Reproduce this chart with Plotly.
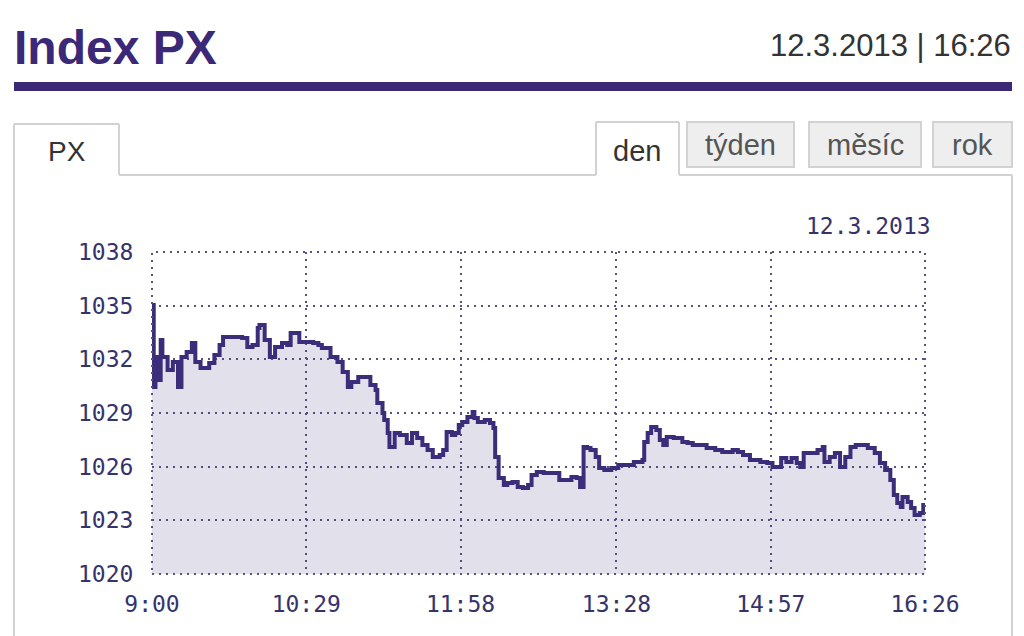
import plotly.graph_objects as go
import pandas as pd

# ---- data ----
times = ["9:00","9:01","9:02","9:03","9:05","9:06","9:09","9:12","9:15","9:17","9:20","9:23","9:25","9:28",
         "9:31","9:33","9:36","9:39","9:41","9:45","9:49","9:52","9:55","9:58","10:01","10:02","10:05","10:08",
         "10:11","10:15","10:18","10:20","10:24","10:25","10:29","10:33","10:36","10:38","10:43","10:47","10:50",
         "10:53","10:55","10:59","11:03","11:06","11:09","11:10","11:13","11:14","11:16","11:17","11:20","11:23",
         "11:27","11:30","11:33","11:36","11:39","11:42","11:46","11:48","11:50","11:53","11:55","11:57","11:59",
         "12:02","12:05","12:06","12:08","12:12","12:15","12:17","12:18","12:20","12:23","12:25","12:28","12:31",
         "12:34","12:37","12:39","12:42","12:46","12:50","12:54","12:55","12:59","13:02","13:05","13:07","13:09",
         "13:11","13:13","13:16","13:18","13:21","13:25","13:29","13:34","13:38","13:43","13:44","13:46","13:48",
         "13:51","13:53","13:55","13:57","14:01","14:06","14:09","14:12","14:16","14:20","14:25","14:29","14:35",
         "14:38","14:41","14:45","14:51","14:55","14:58","15:01","15:03","15:06","15:09","15:12","15:14","15:16",
         "15:20","15:24","15:27","15:28","15:31","15:34","15:37","15:40","15:43","15:46","15:50","15:53","15:57",
         "16:00","16:03","16:06","16:08","16:10","16:12","16:13","16:16","16:18","16:20","16:23","16:25","16:26"]
values = [1035.04,1030.45,1032.13,1030.84,1033.08,1032.13,1031.40,1031.85,1030.45,1032.13,1032.41,1032.91,
          1031.85,1031.51,1031.51,1031.79,1032.24,1032.80,1033.25,1033.25,1033.25,1033.19,1032.69,1032.80,
          1033.75,1033.92,1033.08,1032.13,1032.69,1032.91,1032.80,1033.47,1033.47,1032.97,1032.97,1032.91,
          1032.80,1032.63,1032.13,1031.85,1031.29,1030.45,1030.73,1031.01,1031.01,1030.56,1030.28,1029.56,
          1029.00,1028.61,1027.88,1027.10,1027.88,1027.77,1027.32,1027.88,1027.60,1027.21,1026.93,1026.54,
          1026.65,1026.93,1027.94,1027.77,1027.88,1028.33,1028.50,1028.78,1029.06,1028.72,1028.50,1028.61,
          1028.44,1028.16,1026.54,1025.37,1024.97,1025.09,1025.14,1024.86,1024.81,1024.97,1025.53,1025.70,
          1025.65,1025.65,1025.65,1025.25,1025.25,1025.42,1025.37,1024.86,1027.10,1027.04,1026.93,1026.54,
          1025.93,1025.81,1025.93,1026.09,1026.09,1026.26,1026.37,1027.38,1027.88,1028.22,1028.05,1027.49,
          1027.21,1027.66,1027.60,1027.38,1027.32,1027.21,1027.21,1027.04,1026.93,1026.82,1026.93,1026.82,
          1026.65,1026.37,1026.26,1026.20,1025.98,1025.98,1026.48,1026.26,1026.48,1026.20,1025.98,1026.76,
          1026.76,1026.93,1027.10,1026.26,1026.54,1026.76,1025.98,1026.54,1027.10,1027.21,1027.21,1027.04,
          1026.76,1026.20,1025.81,1025.25,1024.42,1023.97,1023.75,1024.30,1024.02,1023.69,1023.30,1023.41,
          1023.86,1023.47]
x_ticks = ["9:00", "10:29", "11:58", "13:28", "14:57", "16:26"]
y_ticks = [1020, 1023, 1026, 1029, 1032, 1035, 1038]
day = "2013-03-12"
day_label = "12.3.2013"
title = "Index PX"
stamp = "12.3.2013 | 16:26"
tabs = ["den", "týden", "měsíc", "rok"]

def to_dt(t):
    return pd.Timestamp(f"{day} {t.zfill(5)}")

xs = [to_dt(t) for t in times]
tick_dt = [to_dt(t) for t in x_ticks]

LINE = "#3b2d7a"
PURPLE = "#3b2876"
GRID = "#55537f"
TXT = "#36336b"
MONO = "DejaVu Sans Mono, Liberation Mono, monospace"
SANS = "Liberation Sans, Arial, sans-serif"
DASH = "2px,5px"
OFF = 8                      # page body margin
W, H = 1024 - OFF, 636 - OFF

def px(x):
    return (x - OFF) / W

def py(y):
    return 1 - (y - OFF) / H

fig = go.Figure()
fig.add_trace(go.Scatter(
    x=xs, y=values, mode="lines", line=dict(color=LINE, width=4, shape="hv"),
    fill="tozeroy", fillcolor="rgba(59,45,122,0.15)", hoverinfo="skip", showlegend=False))

axis_common = dict(showgrid=True, gridcolor=GRID, gridwidth=2, griddash=DASH, zeroline=False,
                   showline=False, ticks="outside", tickcolor="rgba(0,0,0,0)", automargin=False,
                   tickfont=dict(family=MONO, size=23, color=TXT))
fig.update_layout(
    width=W, height=H, margin=dict(l=0, r=0, t=0, b=0, pad=0, autoexpand=False),
    paper_bgcolor="white", plot_bgcolor="white", showlegend=False,
    xaxis=dict(domain=[px(152), px(925)], type="date",
               range=[tick_dt[0], tick_dt[-1]], tickvals=tick_dt, ticktext=x_ticks,
               ticklen=9, **axis_common),
    yaxis=dict(domain=[py(574), py(252)], range=[1020, 1038], tickvals=y_ticks,
               ticktext=[str(v) for v in y_ticks], ticklen=13, **axis_common),
)

shapes = []
# dotted frame of the plot area
shapes.append(dict(type="rect", xref="x domain", yref="y domain", x0=0, x1=1, y0=0, y1=1,
                   line=dict(color=GRID, width=2, dash=DASH), fillcolor="rgba(0,0,0,0)", layer="above"))
# purple rule under header
shapes.append(dict(type="rect", xref="paper", yref="paper", x0=px(14), x1=px(1012), y0=py(91), y1=py(82),
                   fillcolor=PURPLE, line=dict(width=0), layer="below"))
BORDER = "#d2d2d2"
def seg(x0, y0, x1, y1):
    shapes.append(dict(type="line", xref="paper", yref="paper", x0=px(x0), y0=py(y0), x1=px(x1), y1=py(y1),
                       line=dict(color=BORDER, width=2), layer="below"))
# panel + PX tab
seg(14, 124, 14, 640)
seg(14, 124, 119, 124)
seg(119, 124, 119, 175)
seg(119, 175, 596, 175)
seg(1012, 175, 1012, 640)
# den tab (active)
seg(596, 122, 596, 175)
seg(596, 122, 679, 122)
seg(679, 122, 679, 175)
seg(679, 175, 1012, 175)
# inactive tabs
for x0, x1 in [(687, 794), (809, 921), (933, 1012)]:
    shapes.append(dict(type="rect", xref="paper", yref="paper", x0=px(x0), x1=px(x1), y0=py(167), y1=py(122),
                       fillcolor="#eeeeee", line=dict(color=BORDER, width=2), layer="below"))
fig.update_layout(shapes=shapes)

ann = []
ann.append(dict(text=f"<b>{title}</b>", x=px(12), y=py(48), xref="paper", yref="paper", xanchor="left",
                yanchor="middle", showarrow=False, font=dict(family=SANS, size=48, color=PURPLE)))
ann.append(dict(text=stamp, x=px(1013), y=py(45), xref="paper", yref="paper", xanchor="right",
                yanchor="middle", showarrow=False, font=dict(family=SANS, size=31, color="#333333")))
ann.append(dict(text="PX", x=px(67), y=py(151), xref="paper", yref="paper", xanchor="center",
                yanchor="middle", showarrow=False, font=dict(family=SANS, size=28, color="#333333")))
tab_centers = [(637, 151), (740, 145), (865, 145), (972, 145)]
for t, (cx, cy) in zip(tabs, tab_centers):
    ann.append(dict(text=t, x=px(cx), y=py(cy), xref="paper", yref="paper", xanchor="center",
                    yanchor="middle", showarrow=False,
                    font=dict(family=SANS, size=29, color="#333333" if t == "den" else "#555555")))
ann.append(dict(text=day_label, x=px(933), y=py(226), xref="paper", yref="paper", xanchor="right",
                yanchor="middle", showarrow=False, font=dict(family=MONO, size=23, color=TXT)))
fig.update_layout(annotations=ann)

fig.write_html("out.html")
